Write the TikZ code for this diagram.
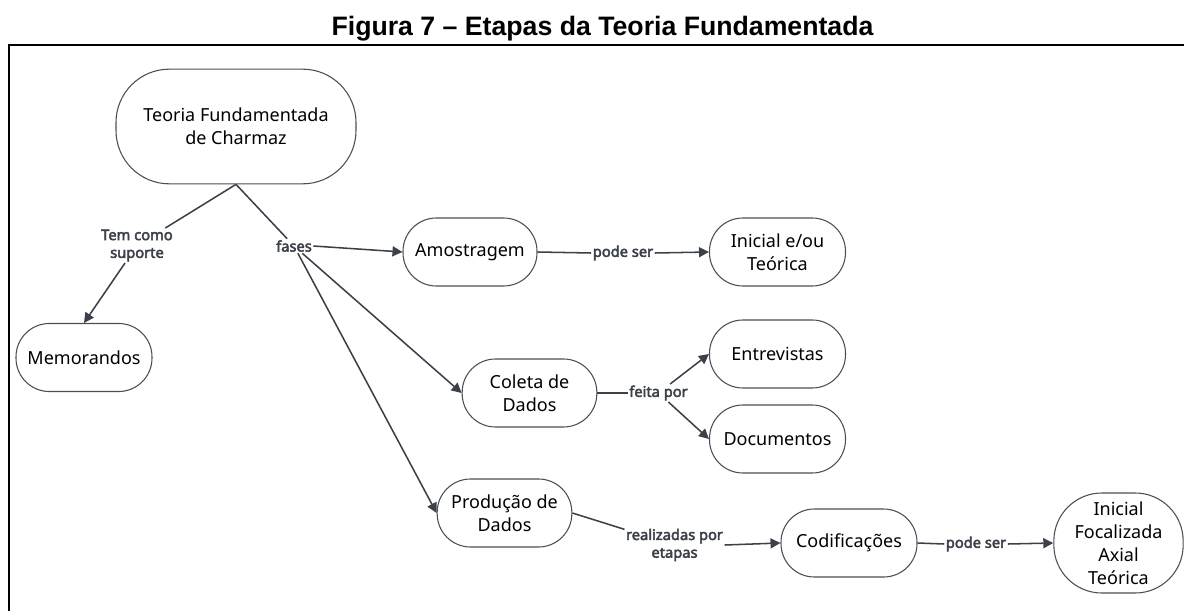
\documentclass[tikz,border=0pt]{standalone}
\usepackage{fontspec}
\setmainfont{Noto Sans}
\newfontfamily\rotfont{Noto Sans}[AutoFakeBold=3]
\newfontfamily\titlefont{Liberation Sans}
\usetikzlibrary{arrows.meta}

\definecolor{linegray}{HTML}{3B4049}
\definecolor{nodegray}{HTML}{4A4E57}

\tikzset{
  conceito/.style={shape=rectangle, draw=nodegray, line width=0.8pt, rounded corners=25pt,
    minimum width=102pt, minimum height=51pt, align=center, inner sep=2pt,
    font=\fontsize{13.5}{17.25}\selectfont},
  rotulo/.style={align=center, inner sep=1pt, text=linegray,
    font=\rotfont\bfseries\fontsize{11}{13.3}\selectfont},
  liga/.style={linegray, line width=1.15pt},
  seta/.style={linegray, line width=1.15pt, -{Triangle[length=7.5pt,width=7.5pt]}}
}

\begin{document}
\begin{tikzpicture}[x=0.75pt, y=-0.75pt]

    \useasboundingbox (0,0) rectangle (1184,610);
    \begin{scope}
      \clip (0,0) rectangle (1184,610);
      \draw[line width=1.5pt] (9,45) rectangle (1220,660);
    \end{scope}

    \node[anchor=base, font=\titlefont\bfseries\fontsize{20}{24}\selectfont] (titulo) at (602.5,36) {Figura 7 – Etapas da Teoria Fundamentada};

    \node[conceito, minimum width=180pt, minimum height=86pt, rounded corners=40pt] (teoria) at (236,126.5) {Teoria Fundamentada\\de Charmaz};
    \node[conceito] (memorandos) at (84,357.5) {Memorandos};
    \node[conceito, minimum width=100.5pt] (amostragem) at (470,252) {Amostragem};
    \node[conceito] (inicialteorica) at (777.5,252) {Inicial e/ou\\Teórica};
    \node[conceito, minimum width=101pt] (coleta) at (529.5,393) {Coleta de\\Dados};
    \node[conceito] (entrevistas) at (777.5,354) {Entrevistas};
    \node[conceito] (documentos) at (777.5,439) {Documentos};
    \node[conceito, minimum width=101pt] (producao) at (504.5,513) {Produção de\\Dados};
    \node[conceito] (codificacoes) at (849,543) {Codificações};
    \node[conceito, minimum width=97pt, minimum height=75pt, rounded corners=36pt] (tipos) at (1118.5,543) {Inicial\\Focalizada\\Axial\\Teórica};

    \node[rotulo] (suporte) at (137,245.5) {Tem como\\suporte};
    \node[rotulo] (fases) at (294,246) {fases};
    \node[rotulo] (podeser) at (623,253) {pode ser};
    \node[rotulo] (feitapor) at (658.5,393) {feita por};
    \node[rotulo] (realizadas) at (674.5,545) {realizadas por\\etapas};
    \node[rotulo] (podeserb) at (976,544) {pode ser};

    \path [liga] (teoria.south) edge (suporte);
    \path [seta] (suporte) edge (memorandos.north);
    \path [liga] (teoria.south) edge (fases);
    \path [seta] (fases.east) edge (amostragem.west);
    \path [seta] (fases) edge (coleta.west);
    \path [seta] (fases) edge (producao.west);
    \path [liga] (amostragem.east) edge (podeser.west);
    \path [seta] (podeser.east) edge (inicialteorica.west);
    \path [liga] (coleta.east) edge (feitapor.west);
    \path [seta] (feitapor) edge (entrevistas.west);
    \path [seta] (feitapor) edge (documentos.west);
    \path [liga] (producao.east) edge (realizadas);
    \path [seta] (realizadas.east) edge (codificacoes.west);
    \path [liga] (codificacoes.east) edge (podeserb.west);
    \path [seta] (podeserb.east) edge (tipos.west);
\end{tikzpicture}
\end{document}
